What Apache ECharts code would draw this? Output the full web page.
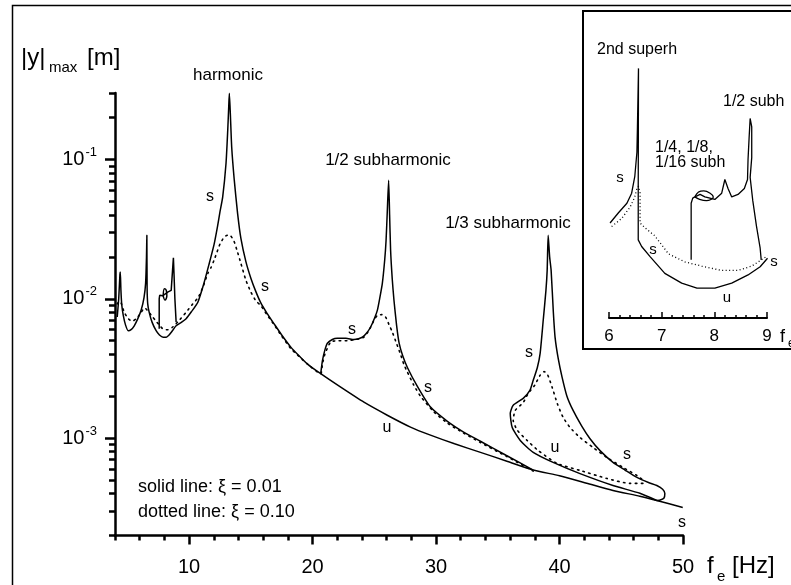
<!DOCTYPE html>
<html>
<head>
<meta charset="utf-8">
<script src="https://cdn.jsdelivr.net/npm/echarts@6/dist/echarts.min.js"></script>
<style>
  html, body { margin: 0; padding: 0; background: #fff; }
  #chart { width: 791px; height: 585px; }
</style>
</head>
<body>
<div id="chart"></div>
<script>
// main plot: f_e [Hz] vs |y|max [m]
const harmonicSolid = [
  [4.18, 0.0074], [4.30, 0.0100], [4.40, 0.0150], [4.43, 0.0156], [4.48, 0.0115], [4.55, 0.0090],
  [4.67, 0.0076], [4.85, 0.0065], [5.07, 0.0059], [5.30, 0.0060], [5.56, 0.0064], [5.85, 0.0072],
  [6.12, 0.0083], [6.35, 0.0102], [6.48, 0.0130], [6.55, 0.0200], [6.58, 0.0286], [6.60, 0.0120],
  [6.65, 0.0092], [6.77, 0.0080], [7.00, 0.0068], [7.33, 0.0059], [7.60, 0.0055], [7.90, 0.0053],
  [8.15, 0.0053], [8.38, 0.0055], [8.65, 0.0059], [8.95, 0.0064], [9.40, 0.0068], [9.76, 0.0072],
  [10.2, 0.0081], [10.7, 0.0094], [11.21, 0.0130], [11.6, 0.0175], [12.02, 0.0245], [12.30, 0.0330],
  [12.50, 0.0420], [12.72, 0.0536], [12.99, 0.0936], [13.13, 0.162], [13.21, 0.239], [13.26, 0.299],
  [13.34, 0.214], [13.45, 0.123], [13.66, 0.071], [13.93, 0.0409], [14.2, 0.0270], [14.6, 0.0185],
  [15.01, 0.0140], [15.4, 0.0113], [15.82, 0.0093], [16.3, 0.0079], [16.89, 0.0066], [17.5, 0.0055],
  [18.24, 0.0045], [18.9, 0.0039], [19.59, 0.0034], [20.66, 0.0029], [22.28, 0.00232], [24.16, 0.00181],
  [26.05, 0.00146], [27.93, 0.00120], [29.55, 0.00105], [31.5, 0.00091], [33.6, 0.00079], [35.8, 0.00068],
  [37.87, 0.000590], [40.0, 0.000537], [42.2, 0.000475], [44.33, 0.000421], [46.5, 0.000383],
  [47.88, 0.000357], [49.98, 0.000318]
];
const lowSubhSolid = [
  [7.58, 0.0061], [7.58, 0.0100], [7.62, 0.0106], [7.75, 0.0108], [7.85, 0.0105], [8.0, 0.0108],
  [8.3, 0.0112], [8.55, 0.0115], [8.66, 0.0160], [8.73, 0.0197], [8.78, 0.0150], [8.85, 0.0100],
  [8.95, 0.0068]
];
const lowSubhLoop = [
  [7.9, 0.0105], [8.0, 0.0118], [8.15, 0.0115], [8.2, 0.0105], [8.05, 0.0098], [7.9, 0.0105]
];
const halfSubhSolid = [
  [20.66, 0.0029], [20.8, 0.0036], [21.0, 0.0043], [21.2, 0.0048], [21.6, 0.0051], [22.0, 0.0052],
  [22.7, 0.0052], [23.35, 0.0051], [24.03, 0.0053], [24.4, 0.0057], [24.71, 0.0063], [25.0, 0.0072],
  [25.25, 0.0083], [25.45, 0.0102], [25.65, 0.0129], [25.84, 0.0189], [25.95, 0.0260], [26.05, 0.0420],
  [26.16, 0.0710], [26.24, 0.0400], [26.32, 0.0223], [26.45, 0.0140], [26.59, 0.0098], [26.8, 0.0065],
  [27.01, 0.0048], [27.3, 0.0039], [27.69, 0.0032], [28.5, 0.00234], [29.55, 0.00167], [30.92, 0.00132],
  [32.2, 0.00111], [33.59, 0.00095], [35.7, 0.00075], [37.87, 0.000590]
];
const thirdSubhSolid = [
  [47.88, 0.000357], [46.51, 0.000402], [44.33, 0.000457], [41.66, 0.000556], [39.48, 0.000669],
  [37.87, 0.000790], [36.82, 0.000962], [36.17, 0.00119], [36.01, 0.00150], [36.25, 0.00172],
  [37.06, 0.00193], [37.6, 0.0022], [37.87, 0.00260], [38.2, 0.0032], [38.43, 0.00406], [38.68, 0.00701],
  [38.9, 0.0115], [39.00, 0.0160], [39.08, 0.0286], [39.2, 0.0200], [39.32, 0.0160], [39.5, 0.0080],
  [39.64, 0.00529], [39.9, 0.0037], [40.21, 0.00273], [40.6, 0.0020], [41.10, 0.00158], [41.8, 0.00122],
  [42.47, 0.00099], [43.3, 0.00081], [44.33, 0.00067], [45.3, 0.00059], [46.27, 0.000522],
  [47.2, 0.000480], [47.88, 0.000457], [48.35, 0.000430], [48.53, 0.000401], [48.45, 0.000370],
  [48.1, 0.000358], [47.88, 0.000357]
];
const harmonicDotted = [
  [4.18, 0.0092], [4.35, 0.0096], [4.5, 0.0093], [4.75, 0.0080], [5.07, 0.0072], [5.4, 0.0069],
  [5.8, 0.0073], [6.12, 0.0080], [6.4, 0.0086], [6.7, 0.0081], [7.0, 0.0075], [7.33, 0.0069],
  [7.7, 0.0063], [8.0, 0.0060], [8.3, 0.0060], [8.7, 0.0063], [9.2, 0.0070], [9.76, 0.0080],
  [10.3, 0.0092], [10.73, 0.0102], [11.13, 0.0122], [11.53, 0.0153], [11.78, 0.0168], [12.02, 0.0189],
  [12.26, 0.0216], [12.50, 0.0247], [12.83, 0.0276], [13.1, 0.0286], [13.35, 0.0284], [13.63, 0.0260],
  [13.88, 0.0223], [14.2, 0.0179], [14.6, 0.0136], [15.0, 0.0112], [15.4, 0.0097], [15.82, 0.0089],
  [16.3, 0.0077], [16.89, 0.0065], [17.5, 0.0054], [18.24, 0.0044], [19.59, 0.0034], [20.66, 0.0029],
  [20.8, 0.0034], [21.0, 0.0040], [21.47, 0.0049], [22.1, 0.0050], [22.8, 0.0050], [23.5, 0.0051],
  [24.16, 0.0053], [24.6, 0.0060], [24.97, 0.0070], [25.25, 0.0076], [25.6, 0.0077], [25.91, 0.0074],
  [26.2, 0.0065], [26.45, 0.0058], [26.72, 0.0050], [27.12, 0.0040], [27.39, 0.0034], [27.66, 0.0030],
  [28.2, 0.0024], [28.74, 0.0020], [29.8, 0.00155], [30.92, 0.00128], [32.2, 0.00109], [33.59, 0.00093],
  [35.7, 0.00074], [37.87, 0.00058]
];
const thirdSubhDotted = [
  [46.75, 0.000473], [45.70, 0.000473], [43.84, 0.000513], [41.66, 0.000586], [39.81, 0.000658],
  [38.27, 0.000815], [37.38, 0.000962], [36.58, 0.00114], [36.25, 0.00134], [36.41, 0.00158],
  [37.06, 0.00180], [37.46, 0.00209], [38.0, 0.0024], [38.4, 0.0028], [38.75, 0.0030], [39.00, 0.0029],
  [39.40, 0.00232], [39.81, 0.00178], [40.29, 0.00141], [40.86, 0.00119], [41.66, 0.00101],
  [42.71, 0.000857], [43.84, 0.000726], [45.14, 0.000616], [46.27, 0.000539], [46.75, 0.000496],
  [46.75, 0.000473]
];

// inset: 6..9 Hz zoom
const insetSolid = [
  [6.02, 0.0084], [6.18, 0.0091], [6.34, 0.0098], [6.43, 0.0106], [6.49, 0.0121], [6.53, 0.0146],
  [6.54, 0.0178], [6.56, 0.0281], [6.555, 0.0112], [6.555, 0.00736], [6.62, 0.00699], [6.78, 0.00646],
  [7.06, 0.00567], [7.38, 0.00525], [7.67, 0.00505], [8.01, 0.00505], [8.33, 0.00525], [8.64, 0.00560],
  [8.87, 0.00597], [9.01, 0.00638]
];
const insetDotted = [
  [6.05, 0.00817], [6.24, 0.0087], [6.40, 0.0095], [6.49, 0.0103], [6.53, 0.0110], [6.56, 0.0112],
  [6.59, 0.0106], [6.59, 0.0084], [6.68, 0.0081], [6.87, 0.0076], [7.13, 0.0066], [7.44, 0.0062],
  [7.76, 0.0060], [8.14, 0.0058], [8.45, 0.0058], [8.71, 0.0060], [9.01, 0.0065]
];
const insetSubh = [
  [7.56, 0.0063], [7.56, 0.0098], [7.59, 0.0102], [7.63, 0.0103], [7.73, 0.0105], [7.82, 0.0103],
  [8.01, 0.0101], [8.14, 0.0106], [8.20, 0.0118], [8.26, 0.0110], [8.33, 0.0103], [8.45, 0.0105],
  [8.57, 0.0110], [8.63, 0.0118], [8.64, 0.0138], [8.66, 0.0163], [8.68, 0.0190], [8.71, 0.0178],
  [8.71, 0.0140], [8.68, 0.0120], [8.73, 0.0100], [8.80, 0.0082], [8.87, 0.0069], [8.89, 0.0063]
];
const insetLoop = [
  [7.63, 0.0103], [7.70, 0.0107], [7.80, 0.0108], [7.92, 0.0106], [7.98, 0.0103], [7.85, 0.0100],
  [7.72, 0.0101], [7.63, 0.0103]
];

// ticks
const xMajor = [10, 20, 30, 40, 50];
const xMinor = [4, 6, 8, 12, 14, 16, 18, 22, 24, 26, 28, 32, 34, 36, 38, 42, 44, 46, 48];
const yMajor = [0.001, 0.01, 0.1];
const yMinor = [];
[1e-4, 1e-3, 1e-2, 1e-1].forEach(d => {
  for (let k = 2; k <= 9; k++) {
    const v = +(k * d).toPrecision(3);
    if (v >= 2e-4 && v <= 0.3) yMinor.push(v);
  }
});

const FONT = '"Liberation Sans", Arial, sans-serif';
const chart = echarts.init(document.getElementById('chart'), null, { renderer: 'canvas' });

const solid = { color: '#000', width: 1.5 };
const dotted = { color: '#000', width: 1.6, type: [1.5, 4.5], cap: 'round' };
const line = (data, style, xi, yi, smooth) => ({
  type: 'line', data, xAxisIndex: xi, yAxisIndex: yi, symbol: 'none',
  smooth: smooth || false, lineStyle: style, silent: true
});

const txt = (text, x, y, size, align) => ({
  type: 'text', x, y, z: 100,
  style: { text, font: size + 'px ' + FONT, fill: '#000', align: align || 'center', verticalAlign: 'middle' }
});

chart.setOption({
  animation: false,
  backgroundColor: '#fff',
  grid: [
    { left: 115, top: 93, right: 108, bottom: 49.5 },
    { left: 609, top: 60, width: 158, height: 258 }
  ],
  xAxis: [
    {
      type: 'value', gridIndex: 0, min: 4, max: 50, position: 'bottom',
      axisLine: { onZero: false, lineStyle: { color: '#000', width: 2.5 } },
      axisTick: { customValues: xMajor, length: 9, lineStyle: { color: '#000', width: 2.5 } },
      axisLabel: { customValues: xMajor, margin: 22, color: '#000', fontSize: 20, fontFamily: FONT },
      splitLine: { show: false }
    },
    {
      type: 'value', gridIndex: 0, min: 4, max: 50, position: 'bottom',
      axisLine: { show: false },
      axisTick: { customValues: xMinor, length: 5, lineStyle: { color: '#000', width: 2.5 } },
      axisLabel: { show: false },
      splitLine: { show: false }
    },
    {
      type: 'value', gridIndex: 1, min: 6, max: 9, interval: 1, position: 'bottom',
      axisLine: { onZero: false, lineStyle: { color: '#000', width: 2 } },
      axisTick: { inside: true, length: 6, lineStyle: { color: '#000', width: 1.5 } },
      minorTick: { show: true, splitNumber: 5, length: 3, lineStyle: { color: '#000', width: 1.5 } },
      axisLabel: { margin: 10, color: '#000', fontSize: 17, fontFamily: FONT },
      splitLine: { show: false }
    }
  ],
  yAxis: [
    {
      type: 'log', logBase: 10, gridIndex: 0, min: 2e-4, max: 0.3, position: 'left',
      axisLine: { onZero: false, lineStyle: { color: '#000', width: 2.5 } },
      axisTick: { customValues: yMajor, length: 10, lineStyle: { color: '#000', width: 2.5 } },
      axisLabel: {
        customValues: yMajor, margin: 18, color: '#000',
        formatter: v => '{b|10}{s|' + Math.round(Math.log10(v)) + '}',
        rich: {
          b: { fontSize: 20, fontFamily: FONT, color: '#000' },
          s: { fontSize: 13, fontFamily: FONT, color: '#000', padding: [0, 0, 14, 1] }
        }
      },
      splitLine: { show: false }
    },
    {
      type: 'log', logBase: 10, gridIndex: 0, min: 2e-4, max: 0.3, position: 'left',
      axisLine: { show: false },
      axisTick: { customValues: yMinor, length: 6, lineStyle: { color: '#000', width: 2.5 } },
      axisLabel: { show: false },
      splitLine: { show: false }
    },
    {
      type: 'log', logBase: 10, gridIndex: 1, min: 0.004, max: 0.03, show: false,
      splitLine: { show: false }
    }
  ],
  series: [
    line(harmonicSolid, solid, 0, 0, 0.2),
    line(lowSubhSolid, solid, 0, 0),
    line(lowSubhLoop, solid, 0, 0, 0.4),
    line(halfSubhSolid, solid, 0, 0, 0.2),
    line(thirdSubhSolid, solid, 0, 0, 0.2),
    line(harmonicDotted, dotted, 0, 0, 0.2),
    line(thirdSubhDotted, dotted, 0, 0, 0.2),
    line(insetSolid, { color: '#000', width: 1.3 }, 2, 2),
    line(insetDotted, { color: '#000', width: 1.3, type: [1, 2.5] }, 2, 2),
    line(insetSubh, { color: '#000', width: 1.3 }, 2, 2),
    line(insetLoop, { color: '#000', width: 1.3 }, 2, 2, 0.4)
  ],
  graphic: [
    { type: 'rect', shape: { x: 12.5, y: 5.5, width: 800, height: 600 }, style: { fill: null, stroke: '#000', lineWidth: 1.5 } },
    { type: 'rect', shape: { x: 583, y: 11, width: 230, height: 338 }, style: { fill: null, stroke: '#000', lineWidth: 2 } },
    txt('|y|', 21, 58, 24, 'left'),
    txt('max', 49, 68, 15, 'left'),
    txt('[m]', 87, 58, 24, 'left'),
    txt('harmonic', 228, 75, 17),
    txt('1/2 subharmonic', 388, 160, 17),
    txt('1/3 subharmonic', 508, 223, 17),
    txt('s', 210, 197, 16), txt('s', 265, 287, 16), txt('s', 352, 330, 16), txt('s', 428, 388, 16),
    txt('u', 387, 428, 16), txt('s', 529, 353, 16), txt('u', 555, 448, 16), txt('s', 627, 455, 16),
    txt('s', 682, 523, 16),
    txt('solid line: ξ = 0.01', 138, 487, 18, 'left'),
    txt('dotted line: ξ = 0.10', 138, 512, 18, 'left'),
    txt('f', 707, 566, 24, 'left'),
    txt('e', 717, 577, 15, 'left'),
    txt('[Hz]', 732, 566, 24, 'left'),
    txt('2nd superh', 597, 50, 16, 'left'),
    txt('1/2 subh', 723, 102, 16, 'left'),
    txt('1/4, 1/8,', 655, 148, 16, 'left'),
    txt('1/16 subh', 655, 163, 16, 'left'),
    txt('s', 620, 178, 15), txt('s', 653, 250, 15), txt('u', 727, 298, 15), txt('s', 774, 262, 15),
    txt('f', 780, 337, 18, 'left'),
    txt('e', 788, 344, 12, 'left')
  ]
});
</script>
</body>
</html>
